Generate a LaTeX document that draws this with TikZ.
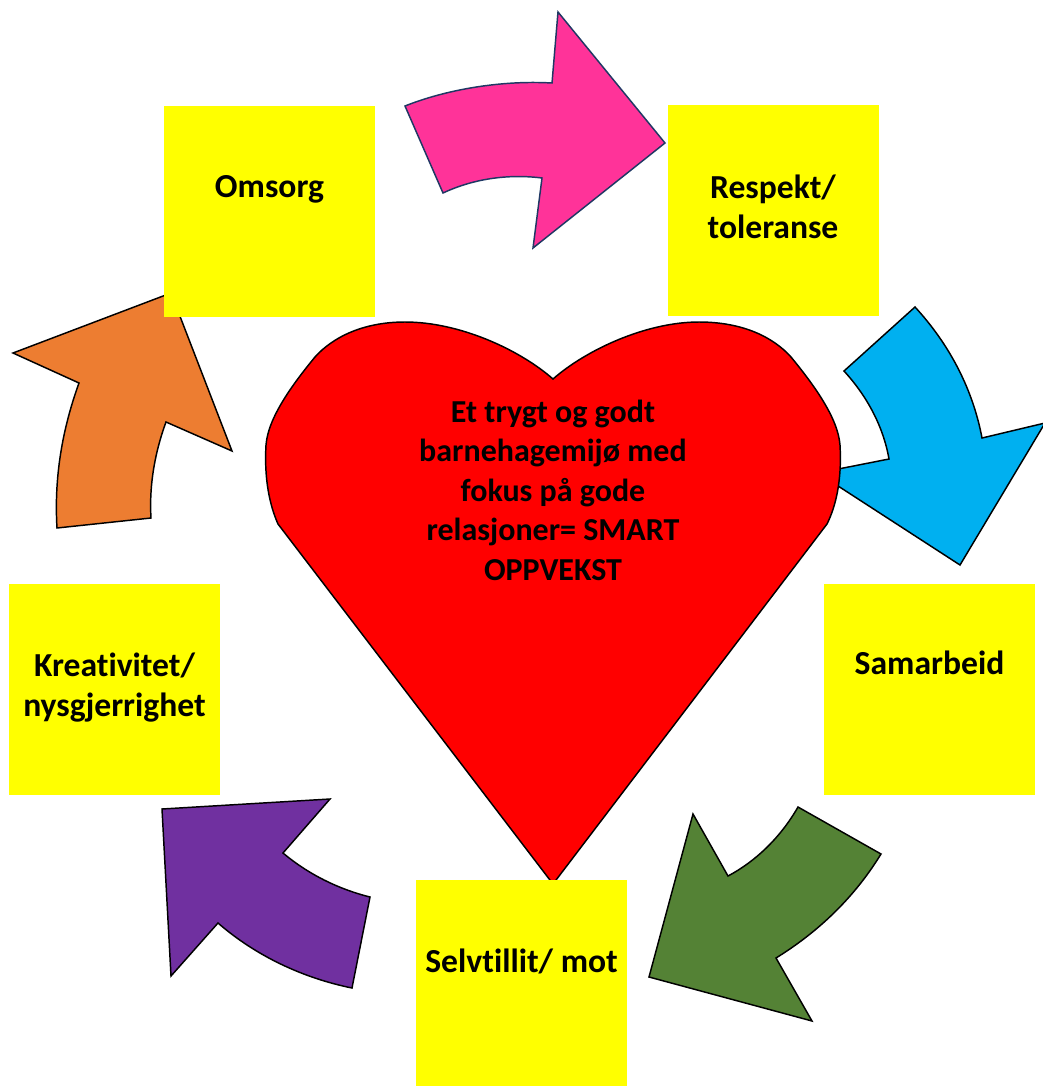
\documentclass[tikz,border=0pt]{standalone}
\usepackage{fontspec}
\setmainfont{Carlito}[Ligatures=NoCommon]
\definecolor{pinkA}{HTML}{FF3399}
\definecolor{navyA}{HTML}{1F3864}
\definecolor{blueA}{HTML}{00B0F0}
\definecolor{greenA}{HTML}{548235}
\definecolor{purpleA}{HTML}{7030A0}
\definecolor{orangeA}{HTML}{ED7D31}
\definecolor{yellowA}{HTML}{FFFF00}
\begin{document}
\begin{tikzpicture}[x=0.75pt,y=-0.75pt,
  shapeline/.style={draw=black,line width=1.1pt,line join=miter},
  box/.style={fill=yellowA,draw=none,minimum width=158.25pt,minimum height=158.25pt,inner sep=0pt,outer sep=0pt},
  lbl/.style={font=\bfseries\fontsize{25.2pt}{29.8pt}\selectfont,align=center,inner sep=0pt,text=black},
  heartlbl/.style={lbl,font=\bfseries\fontsize{24pt}{29.6pt}\selectfont}]
\useasboundingbox (0,0) rectangle (1043,1086);
\fill[white] (0,0) rectangle (1043,1086);

% pink arrow (Omsorg -> Respekt)
\draw[shapeline,draw=navyA,fill=pinkA] (405,106) .. controls (445,90) and (500,80) .. (552,83)
  -- (558,12) -- (665,143) -- (533,248) -- (542,178)
  .. controls (510,174) and (475,178) .. (443,193) -- cycle;

% blue arrow (Respekt -> Samarbeid)
\draw[shapeline,fill=blueA] (915,307) -- (844,371) .. controls (866,395) and (883,425) .. (889,459)
  -- (818,473) -- (960,565) -- (1045,423) -- (982,438)
  .. controls (973,390) and (950,345) .. (915,307) -- cycle;

% green arrow (Samarbeid -> Selvtillit)
\draw[shapeline,fill=greenA] (798,807) -- (881,854) .. controls (854,898) and (818,932) .. (776,958)
  -- (812,1021) -- (649,977) -- (693,814) -- (728,876)
  .. controls (758,860) and (782,835) .. (798,807) -- cycle;

% purple arrow (Selvtillit -> Kreativitet)
\draw[shapeline,fill=purpleA] (162,809) -- (330,799) -- (283,853)
  .. controls (308,874) and (338,889) .. (370,897) -- (352,988)
  .. controls (303,978) and (256,956) .. (218,923) -- (171,976) -- cycle;

% orange arrow (Kreativitet -> Omsorg)
\draw[shapeline,fill=orangeA] (57,528) .. controls (54,478) and (62,430) .. (79,383)
  -- (13,353) -- (171,293) -- (232,451) -- (166,422)
  .. controls (155,452) and (149,485) .. (151,518) -- cycle;

% heart
\draw[shapeline,fill=red] (553,379) .. controls (520,350) and (460,322) .. (405,322)
  .. controls (362,322) and (332,338) .. (315,357)
  .. controls (292,385) and (268,418) .. (266,445)
  .. controls (264,480) and (270,506) .. (278,524)
  -- (553,884) -- (827,524)
  .. controls (836,506) and (842,480) .. (840,445)
  .. controls (838,418) and (814,385) .. (791,357)
  .. controls (774,338) and (744,322) .. (699,322)
  .. controls (646,322) and (586,350) .. (553,379) -- cycle;
\node[heartlbl,anchor=base] (hearttext) at (553,580)
  {Et trygt og godt\\barnehagemijø med\\fokus på gode\\relasjoner= SMART\\OPPVEKST};

% boxes
\node[box] (omsorg) at (269.5,211.5) {};
\node[box] (respekt) at (773,210.5) {};
\node[box] (samarbeid) at (929.5,689.5) {};
\node[box] (kreativitet) at (114.5,689.5) {};
\node[box] (selvtillit) at (521.5,985.5) {};

\node[lbl,anchor=base] (omsorgT) at (269.5,197) {Omsorg};
\node[lbl,anchor=base] (respektT) at (773,238) {Respekt/\\toleranse};
\node[lbl,anchor=base] (samarbeidT) at (929.5,674) {Samarbeid};
\node[lbl,anchor=base] (kreativitetT) at (114.5,716) {Kreativitet/\\nysgjerrighet};
\node[lbl,anchor=base] (selvtillitT) at (521.5,972) {Selvtillit/ mot};
\end{tikzpicture}
\end{document}
